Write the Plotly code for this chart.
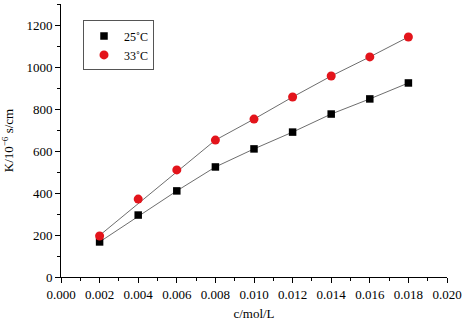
import plotly.graph_objects as go

conc = [0.002, 0.004, 0.006, 0.008, 0.010, 0.012, 0.014, 0.016, 0.018]
k_25 = [167, 295, 410, 524, 610, 690, 776, 848, 924]
k_33 = [195, 371, 510, 652, 752, 857, 957, 1048, 1143]
fit_25 = [167, 290, 410, 524, 610, 690, 776, 848, 924]
fit_33 = [198, 350, 503, 652, 752, 857, 957, 1048, 1143]
x_ticks = [0.000, 0.002, 0.004, 0.006, 0.008, 0.010, 0.012, 0.014, 0.016, 0.018, 0.020]
x_tick_labels = ["0.000", "0.002", "0.004", "0.006", "0.008", "0.010",
                 "0.012", "0.014", "0.016", "0.018", "0.020"]
y_ticks = [0, 200, 400, 600, 800, 1000, 1200]

FONT = "Liberation Serif"

fig = go.Figure()
fig.add_trace(go.Scatter(x=conc, y=fit_25, mode="lines", line=dict(color="#6e6e6e", width=1),
                         showlegend=False, hoverinfo="skip"))
fig.add_trace(go.Scatter(x=conc, y=fit_33, mode="lines", line=dict(color="#6e6e6e", width=1),
                         showlegend=False, hoverinfo="skip"))
fig.add_trace(go.Scatter(x=conc, y=k_25, mode="markers", name="25˚C",
                         marker=dict(symbol="square", size=7.5, color="#000000")))
fig.add_trace(go.Scatter(x=conc, y=k_33, mode="markers", name="33˚C",
                         marker=dict(symbol="circle", size=9, color="#e3141b")))

fig.update_layout(
    width=462, height=326,
    margin=dict(l=61, r=15, t=4, b=49, autoexpand=False),
    paper_bgcolor="white", plot_bgcolor="white",
    font=dict(family=FONT, size=13, color="black"),
    legend=dict(x=0.057, y=0.94, xanchor="left", yanchor="top",
                bordercolor="#555555", borderwidth=1, bgcolor="white",
                font=dict(family=FONT, size=12), itemwidth=30, tracegroupgap=0),
)
fig.update_xaxes(range=[0, 0.020], tickvals=x_ticks, ticktext=x_tick_labels, automargin=False,
                 showline=True, linecolor="black", linewidth=1, mirror=False,
                 ticks="outside", ticklen=5, tickcolor="black", showgrid=False, zeroline=False,
                 minor=dict(dtick=0.001, ticks="outside", ticklen=3, tickcolor="black", showgrid=False),
                 title=dict(text="c/mol/L", font=dict(family=FONT, size=13), standoff=8))
fig.update_yaxes(range=[0, 1300], tickvals=y_ticks, automargin=False,
                 showline=True, linecolor="black", linewidth=1, mirror=False,
                 ticks="outside", ticklen=5, tickcolor="black", showgrid=False, zeroline=False,
                 minor=dict(dtick=100, ticks="outside", ticklen=3, tickcolor="black", showgrid=False),
                 title=dict(text="K/10<sup>−6</sup> s/cm", font=dict(family=FONT, size=13), standoff=10))

fig.write_html("out.html", config={"displayModeBar": False},
               post_script="document.body.style.margin='0';")
